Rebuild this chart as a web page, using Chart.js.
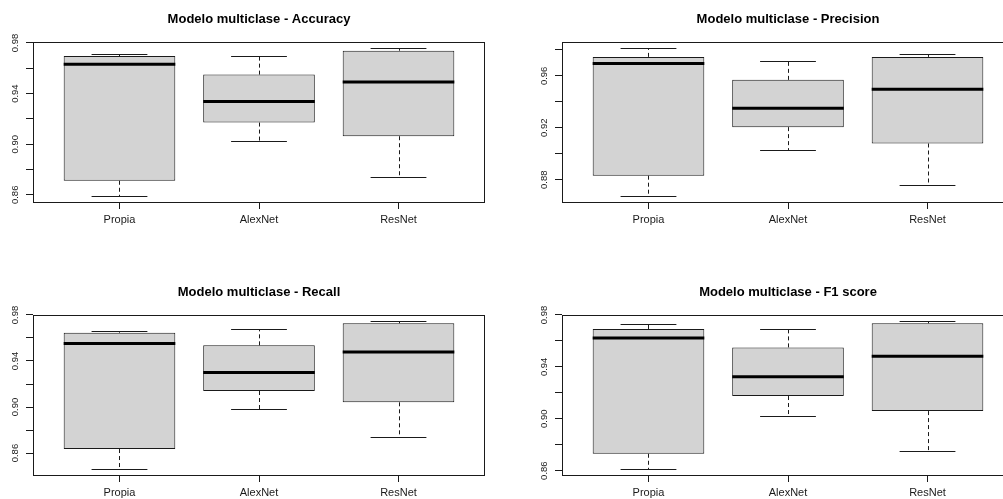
<!DOCTYPE html>
<html>
<head>
<meta charset="utf-8">
<title>Modelo multiclase</title>
<script src="https://cdn.jsdelivr.net/npm/chart.js@4.4.1/dist/chart.umd.min.js"></script>
<style>
  html, body { margin: 0; padding: 0; background: #ffffff; }
  #page { position: relative; width: 1003px; height: 499px; overflow: hidden; background: #ffffff; }
  #page canvas { position: absolute; }
</style>
</head>
<body>
<div id="page">
  <canvas id="cAccuracy"  width="518" height="273" style="left:-11px;top:-9px;width:518px;height:273px"></canvas>
  <canvas id="cPrecision" width="518" height="273" style="left:518px;top:-9px;width:518px;height:273px"></canvas>
  <canvas id="cRecall"    width="518" height="273" style="left:-11px;top:264px;width:518px;height:273px"></canvas>
  <canvas id="cF1"        width="518" height="273" style="left:518px;top:264px;width:518px;height:273px"></canvas>
</div>
<script>
// Models compared in every panel
const categories = ['Propia', 'AlexNet', 'ResNet'];

// Accuracy: whisker ends, quartiles and median per model
const accuracyLower  = [0.8590, 0.9024, 0.8737];
const accuracyQ1     = [0.8711, 0.9171, 0.9063];
const accuracyMedian = [0.9632, 0.9337, 0.9492];
const accuracyQ3     = [0.9697, 0.9550, 0.9739];
const accuracyUpper  = [0.9713, 0.9697, 0.9761];

// Precision
const precisionLower  = [0.8674, 0.9026, 0.8759];
const precisionQ1     = [0.8831, 0.9205, 0.9079];
const precisionMedian = [0.9695, 0.9351, 0.9497];
const precisionQ3     = [0.9746, 0.9569, 0.9746];
const precisionUpper  = [0.9815, 0.9713, 0.9769];

// Recall
const recallLower  = [0.8461, 0.8986, 0.8736];
const recallQ1     = [0.8635, 0.9139, 0.9041];
const recallMedian = [0.9551, 0.9301, 0.9478];
const recallQ3     = [0.9646, 0.9536, 0.9728];
const recallUpper  = [0.9661, 0.9678, 0.9748];

// F1 score
const f1Lower  = [0.8612, 0.9018, 0.8751];
const f1Q1     = [0.8730, 0.9175, 0.9059];
const f1Median = [0.9622, 0.9324, 0.9481];
const f1Q3     = [0.9692, 0.9550, 0.9736];
const f1Upper  = [0.9730, 0.9692, 0.9754];

// Y axis ticks and their labels (blank = tick mark only)
const ticksA      = [0.86, 0.88, 0.90, 0.92, 0.94, 0.96, 0.98];
const tickLabelsA = ['0.86', '', '0.90', '', '0.94', '', '0.98'];
const ticksB      = [0.88, 0.90, 0.92, 0.94, 0.96, 0.98];
const tickLabelsB = ['0.88', '', '0.92', '', '0.96', ''];

const FONT = '"Liberation Sans", Arial, Helvetica, sans-serif';
const INK = '#1a1a1a';
const BOX_WIDTH = 0.8;     // in category units
const STAPLE_WIDTH = 0.4;  // half of the box width

Chart.defaults.font.family = FONT;
Chart.defaults.color = INK;
Chart.defaults.animation = false;

// Whiskers, staples, medians, frame and upright y labels of a box plot
function boxDecor(s, yTicks, yLabels) {
  const line = (ctx, x1, y1, x2, y2) => {
    ctx.beginPath(); ctx.moveTo(x1, y1); ctx.lineTo(x2, y2); ctx.stroke();
  };
  return {
    id: 'boxDecor',
    beforeDatasetsDraw(chart) {
      const { ctx, scales: { x, y } } = chart;
      ctx.save();
      ctx.strokeStyle = INK;
      ctx.lineWidth = 1;
      s.lower.forEach((lo, i) => {
        const cx = Math.round(x.getPixelForValue(i + 1)) + 0.5;
        const sl = x.getPixelForValue(i + 1 - STAPLE_WIDTH / 2);
        const sr = x.getPixelForValue(i + 1 + STAPLE_WIDTH / 2);
        const yLo = Math.round(y.getPixelForValue(lo)) + 0.5;
        const yUp = Math.round(y.getPixelForValue(s.upper[i])) + 0.5;
        const yQ1 = y.getPixelForValue(s.q1[i]);
        const yQ3 = y.getPixelForValue(s.q3[i]);
        ctx.setLineDash([4, 3]);
        line(ctx, cx, yQ1, cx, yLo);
        line(ctx, cx, yQ3, cx, yUp);
        ctx.setLineDash([]);
        line(ctx, sl, yLo, sr, yLo);
        line(ctx, sl, yUp, sr, yUp);
      });
      ctx.restore();
    },
    afterDatasetsDraw(chart) {
      const { ctx, scales: { x, y } } = chart;
      ctx.save();
      ctx.strokeStyle = '#000000';
      ctx.lineWidth = 3;
      s.median.forEach((m, i) => {
        const bl = x.getPixelForValue(i + 1 - BOX_WIDTH / 2);
        const br = x.getPixelForValue(i + 1 + BOX_WIDTH / 2);
        const ym = y.getPixelForValue(m);
        line(ctx, bl, ym, br, ym);
      });
      ctx.restore();
    },
    afterDraw(chart) {
      const { ctx, chartArea: a, scales: { y } } = chart;
      ctx.save();
      ctx.strokeStyle = INK;
      ctx.lineWidth = 1;
      ctx.strokeRect(Math.round(a.left) + 0.5, Math.round(a.top) + 0.5,
                     Math.round(a.right - a.left) - 1, Math.round(a.bottom - a.top));
      // y labels run bottom-to-top, centred on their tick
      ctx.fillStyle = INK;
      ctx.font = '9.5px ' + FONT;
      ctx.textAlign = 'center';
      ctx.textBaseline = 'middle';
      yTicks.forEach((v, i) => {
        if (!yLabels[i]) return;
        ctx.save();
        ctx.translate(a.left - 18, y.getPixelForValue(v));
        ctx.rotate(-Math.PI / 2);
        ctx.fillText(yLabels[i], 0, 0);
        ctx.restore();
      });
      ctx.restore();
    }
  };
}

function makeBoxplot(canvasId, title, s, yTicks, yLabels) {
  const lo = Math.min(...s.lower), hi = Math.max(...s.upper);
  const pad = (hi - lo) * 0.04;
  new Chart(document.getElementById(canvasId), {
    type: 'bar',
    data: {
      datasets: [{
        data: categories.map((c, i) => ({ x: i + 1, y: [s.q1[i], s.q3[i]] })),
        backgroundColor: '#d3d3d3',
        borderColor: INK,
        borderWidth: 1,
        borderSkipped: false,
        barPercentage: BOX_WIDTH,
        categoryPercentage: 1
      }]
    },
    options: {
      responsive: false,
      devicePixelRatio: 1,
      layout: { padding: { left: 44, right: 22, top: 0, bottom: 22 } },
      plugins: {
        legend: { display: false },
        tooltip: { enabled: false },
        title: {
          display: true,
          text: title,
          color: '#000000',
          font: { family: FONT, size: 13, weight: 'bold' },
          padding: { top: 21, bottom: 14.4 }
        }
      },
      scales: {
        x: {
          type: 'linear',
          offset: false,
          min: 0.38,
          max: 3.62,
          afterBuildTicks: sc => { sc.ticks = categories.map((c, i) => ({ value: i + 1 })); },
          afterFit: sc => { sc.height = 40; },
          border: { display: false },
          grid: { offset: false, drawOnChartArea: false, drawTicks: true, tickLength: 7, tickColor: INK, tickWidth: 1 },
          ticks: {
            autoSkip: false, maxRotation: 0, minRotation: 0, padding: 4,
            font: { family: FONT, size: 11 }, color: INK,
            callback: v => categories[v - 1] || ''
          }
        },
        y: {
          type: 'linear',
          min: lo - pad,
          max: hi + pad,
          afterBuildTicks: sc => { sc.ticks = yTicks.map(v => ({ value: v })); },
          afterFit: sc => { sc.width = 0; },
          border: { display: false },
          grid: { drawOnChartArea: false, drawTicks: true, tickLength: 7, tickColor: INK, tickWidth: 1 },
          ticks: { display: false }
        }
      }
    },
    plugins: [boxDecor(s, yTicks, yLabels)]
  });
}

makeBoxplot('cAccuracy', 'Modelo multiclase - Accuracy',
  { lower: accuracyLower, q1: accuracyQ1, median: accuracyMedian, q3: accuracyQ3, upper: accuracyUpper },
  ticksA, tickLabelsA);
makeBoxplot('cPrecision', 'Modelo multiclase - Precision',
  { lower: precisionLower, q1: precisionQ1, median: precisionMedian, q3: precisionQ3, upper: precisionUpper },
  ticksB, tickLabelsB);
makeBoxplot('cRecall', 'Modelo multiclase - Recall',
  { lower: recallLower, q1: recallQ1, median: recallMedian, q3: recallQ3, upper: recallUpper },
  ticksA, tickLabelsA);
makeBoxplot('cF1', 'Modelo multiclase - F1 score',
  { lower: f1Lower, q1: f1Q1, median: f1Median, q3: f1Q3, upper: f1Upper },
  ticksA, tickLabelsA);
</script>
</body>
</html>
